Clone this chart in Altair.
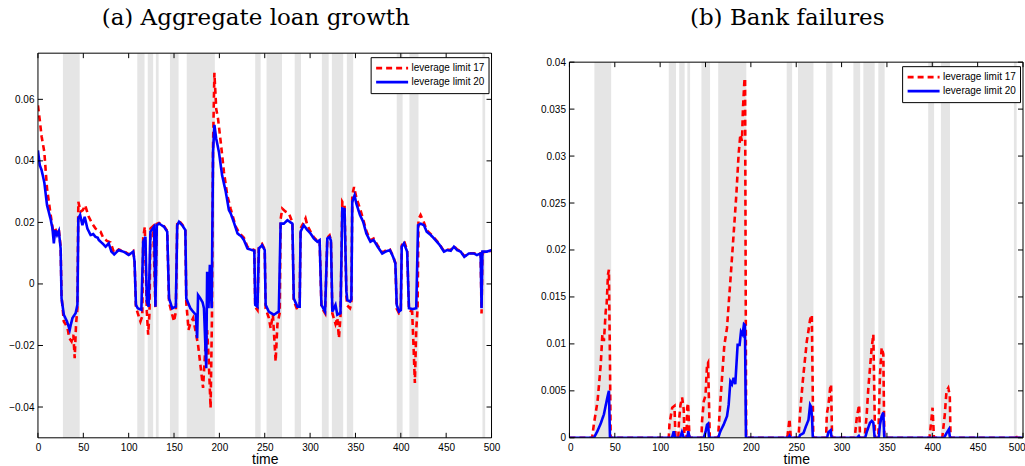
import altair as alt
import pandas as pd

# ---------------- (a) aggregate loan growth ----------------
loan_t_17 = [0, 2, 4, 7, 10, 14, 16, 17.5, 19, 21, 23, 25, 26, 28.5, 30.5, 33, 34.5, 37, 39, 40.5, 42, 43.5,
             44.5, 47, 49.5, 52, 56, 60, 63.5, 69, 72, 76, 80, 84, 89, 95, 100, 105, 106.5, 108, 110, 113,
             115, 116, 117.8, 120, 121.5, 123, 124, 127, 129.5, 131, 133.5, 139, 142.5, 144.5, 148, 150,
             152, 153.5, 155.5, 159, 162.5, 163.5, 166, 167.5, 171, 173.5, 176.5, 179.5, 182, 184.5, 186.5,
             188, 190.3, 191.8, 193, 194.5, 196.5, 198.5, 201.5, 205, 208.7, 212.4, 218, 222, 227, 231, 236,
             238.5, 239.5, 242, 243.5, 247, 250, 251, 254.5, 256.5, 259, 262, 264, 266.5, 267.5, 269.3, 273,
             276.7, 280.5, 282, 286, 288.5, 289.5, 293, 295, 297, 300.5, 304, 308, 310.5, 312.5, 316.5, 319,
             321.5, 323, 324.5, 328, 330, 331.8, 333.5, 335.5, 338, 340, 341, 344, 345.5, 346.5, 348.5, 351,
             355, 358.5, 362, 366.5, 370, 374.5, 379.5, 383, 388, 391.5, 394, 395.5, 398, 400, 401, 403.5,
             407, 409, 412.5, 414, 415.5, 417, 418.5, 419.5, 421.8, 425.5, 428.5, 433, 438, 443, 447.5, 451,
             455, 458.5, 462, 466, 470, 475, 480.5, 484, 488, 489, 490, 495, 500]
loan_v_17 = [0.058, 0.0532, 0.048, 0.0429, 0.031, 0.0224, 0.0185, 0.0155, 0.018, 0.0165, 0.0178, 0.012,
             -0.004, -0.0122, -0.0131, -0.015, -0.0176, -0.0187, -0.0165, -0.0241, -0.013, -0.0079,
             0.0267, 0.0235, 0.024, 0.0256, 0.0218, 0.0195, 0.018, 0.017, 0.015, 0.014, 0.0135, 0.01,
             0.0112, 0.0106, 0.0096, 0.0107, 0.0075, -0.0075, -0.0095, -0.0122, -0.0105, 0.015, 0.0186,
             -0.009, -0.0165, -0.009, 0.018, 0.0188, -0.008, 0.0195, 0.0198, 0.0188, 0.0172, -0.006, -0.01,
             -0.0122, -0.009, 0.0195, 0.0205, 0.0193, 0.0176, -0.006, -0.0149, -0.0133, -0.0111, -0.015,
             -0.0198, -0.0274, -0.0338, -0.0209, -0.015, -0.023, -0.0403, -0.011, 0.045, 0.0686, 0.0569,
             0.0537, 0.0461, 0.0364, 0.0288, 0.0245, 0.0186, 0.0165, 0.015, 0.012, 0.0113, 0.011, -0.0075,
             -0.0085, 0.012, 0.013, 0.0112, -0.008, -0.011, -0.0144, -0.01, -0.0252, -0.013, -0.0095, 0.021,
             0.0245, 0.0235, 0.0229, 0.02, -0.0055, -0.0085, -0.008, 0.018, 0.02, 0.0213, 0.019, 0.017,
             0.0152, 0.014, 0.0144, -0.0075, -0.0095, 0.015, 0.0158, 0.0142, -0.0095, -0.013, -0.011,
             -0.0176, -0.0105, 0.0267, 0.0255, -0.004, -0.007, -0.0079, -0.0065, 0.029, 0.0315, 0.028,
             0.0245, 0.021, 0.0172, 0.0142, 0.0148, 0.0125, 0.0102, 0.0108, 0.0112, 0.009, 0.0068, -0.008,
             -0.0095, -0.009, 0.0125, 0.014, 0.011, -0.0085, -0.009, -0.02, -0.0322, -0.015, -0.008, 0.021,
             0.0224, 0.02, 0.0175, 0.0162, 0.0146, 0.0128, 0.0107, 0.0112, 0.011, 0.0123, 0.0112, 0.0107,
             0.009, 0.01, 0.01, 0.0096, 0.01, -0.0096, 0.0103, 0.0104, 0.0108]

loan_t_20 = [0, 2, 4, 7, 10, 14, 16, 17.5, 19, 21, 23, 25, 26, 28.5, 32, 35, 36, 38, 41.5, 43.5, 44.5, 46.5,
             49, 51.5, 54.5, 58, 61, 63.5, 66, 67, 71, 74.5, 78, 81, 84, 89, 95, 100, 105, 106.5, 108, 110,
             114, 116, 118.5, 120, 122, 124, 128, 129.5, 131, 133.5, 139, 142.5, 144.5, 148, 152, 153.5,
             155.5, 159, 162.5, 163.5, 168, 171, 174, 175.5, 176.5, 179, 181.5, 183, 185.5, 186.5, 188,
             189.5, 191.5, 193, 194.5, 196.5, 199.5, 203, 207, 210.5, 212.5, 216, 220, 224, 227, 231, 236,
             238.5, 239.5, 242, 243.5, 247, 250, 251, 254.5, 260, 265.5, 267.5, 271, 275, 280.5, 282, 286,
             288.5, 289.5, 293, 297, 300.5, 304, 308, 310.5, 312.5, 316.5, 319, 321.5, 323, 324.5, 328, 330,
             333.5, 335.5, 338, 340, 341, 344, 345.5, 346.5, 349, 351, 355, 358.5, 362, 366.5, 370, 374.5,
             379.5, 383, 388, 391.5, 394, 395.5, 398, 400, 401, 403.5, 407, 409, 413, 417, 419, 422, 425.5,
             428.5, 433, 438, 443, 447.5, 451, 455, 458.5, 462, 466, 470, 475, 480.5, 484, 488, 489, 490,
             495, 500]
loan_v_20 = [0.0434, 0.0386, 0.037, 0.033, 0.0256, 0.021, 0.018, 0.0132, 0.0175, 0.0159, 0.0172, 0.0115,
             -0.0047, -0.01, -0.0122, -0.0149, -0.0135, -0.0111, -0.0095, -0.0068, 0.0213, 0.0224, 0.0191,
             0.0218, 0.018, 0.0159, 0.0162, 0.0153, 0.015, 0.0143, 0.0132, 0.0121, 0.0132, 0.0105, 0.0096,
             0.011, 0.0104, 0.0094, 0.0105, 0.0072, -0.0068, -0.0079, -0.0084, 0.0137, 0.0153, -0.0057,
             -0.0074, 0.017, 0.0186, -0.0074, 0.0191, 0.0196, 0.0186, 0.017, -0.0047, -0.0079, -0.0074,
             0.0191, 0.0202, 0.0191, 0.0175, -0.0047, -0.0079, -0.009, -0.01, -0.0176, -0.0036, -0.0047,
             -0.006, -0.0079, -0.0274, 0.004, -0.0079, 0.0062, -0.0079, 0.0429, 0.0517, 0.0472, 0.0429,
             0.0353, 0.03, 0.024, 0.0229, 0.02, 0.0164, 0.0155, 0.0143, 0.0115, 0.011, 0.0108, -0.0068,
             -0.0074, 0.0115, 0.0126, 0.011, -0.0068, -0.009, -0.01, -0.009, 0.0196, 0.0196, 0.0207, 0.0196,
             -0.0047, -0.0074, -0.0074, 0.017, 0.0191, 0.0175, 0.0164, 0.0148, 0.0137, 0.0142, -0.0068,
             -0.009, 0.0148, 0.0153, 0.014, -0.009, -0.0068, -0.01, -0.0095, 0.0245, 0.0243, -0.0025,
             -0.0052, -0.0057, -0.005, 0.0267, 0.0288, 0.0261, 0.0224, 0.0202, 0.0164, 0.0137, 0.0143,
             0.0121, 0.0099, 0.0105, 0.011, 0.0088, 0.0067, -0.0068, -0.009, -0.0085, 0.0121, 0.0132,
             0.0105, -0.0079, -0.0082, -0.0079, 0.0191, 0.0196, 0.0191, 0.017, 0.0159, 0.0143, 0.0126,
             0.0105, 0.011, 0.0108, 0.0121, 0.011, 0.0105, 0.0088, 0.0099, 0.0099, 0.0094, 0.0099, -0.0079,
             0.0105, 0.0105, 0.011]

# ---------------- (b) bank failures ----------------
fail_t_17 = [0, 25, 27, 31, 34.5, 36.3, 38, 40, 41, 42.5, 43.5, 44.7, 45.4, 109.5, 110.3, 113.3, 115.8,
             116.9, 120, 120.8, 122.4, 124.2, 126, 126.8, 129, 129.8, 130.8, 132.3, 145.5, 146.2, 148.1,
             150, 151.7, 152.8, 153.9, 154.7, 163.8, 166.4, 168.2, 170.8, 173.7, 175.5, 177.4, 179.2, 181,
             184, 186.5, 188.4, 190.2, 191.3, 192.8, 193.6, 194.8, 240, 240.5, 242.6, 244, 252.5, 254.3,
             257.3, 259.8, 261.7, 263.5, 265.3, 267.2, 268.8, 283, 283.7, 285.5, 287.4, 288.4, 289.5,
             314.5, 316.7, 319.3, 320.4, 325.5, 327.7, 329.5, 331.3, 333.2, 335, 336.9, 340.5, 342.3,
             344.2, 346, 347.1, 397, 400.3, 401.8, 411, 413.8, 415.7, 417.6, 419.3, 420.1, 491, 491.9,
             493, 500]
fail_v_17 = [0, 0, 0.0015, 0.0039, 0.0078, 0.011, 0.0103, 0.0135, 0.0142, 0.0174, 0.0179, 0.0078, 0, 0,
             0.0015, 0.0032, 0.0034, 0, 0, 0.0018, 0.0035, 0.0043, 0.003, 0, 0, 0.0032, 0.0037, 0, 0,
             0.0018, 0.0039, 0.0045, 0.0078, 0.008, 0.0035, 0, 0, 0.0039, 0.0064, 0.0099, 0.0117, 0.0142,
             0.0167, 0.0192, 0.0217, 0.0259, 0.0302, 0.0323, 0.0316, 0.0351, 0.0379, 0.0383, 0, 0, 0.0003,
             0.002, 0, 0, 0.0027, 0.0061, 0.0085, 0.0103, 0.0114, 0.0126, 0.0131, 0, 0, 0.0025, 0.0035,
             0.0053, 0.0057, 0, 0, 0.0021, 0.0035, 0, 0, 0.0025, 0.0053, 0.0074, 0.0096, 0.011, 0, 0,
             0.0067, 0.0096, 0.0089, 0, 0, 0.0032, 0, 0, 0.0025, 0.005, 0.0053, 0.0045, 0, 0, 0.0003, 0, 0]

fail_t_20 = [0, 27, 30.8, 34.4, 38, 41.8, 43.5, 44.7, 113, 115, 116.5, 122, 124, 126, 130, 131, 132.5, 148,
             150, 151.7, 152.8, 153.9, 164, 166.4, 170, 173.7, 175.5, 177.4, 179.2, 181, 182.8, 185.4,
             187.6, 189.1, 190.9, 192.4, 193.5, 194.6, 241.5, 242.6, 243.5, 253, 254.3, 258, 260.6, 263.5,
             265.3, 266.4, 267.5, 268.3, 284, 285.5, 288, 289, 317, 319, 320, 326, 327.7, 329.5, 331.3,
             333.2, 335, 336.5, 341, 342.3, 344.2, 346, 347.1, 413, 415.7, 418.3, 419.5, 500]
fail_v_20 = [0, 0, 0.0007, 0.0015, 0.0025, 0.0043, 0.005, 0, 0, 0.0007, 0, 0, 0.0006, 0, 0, 0.0007, 0, 0,
             0.0006, 0.0014, 0.0015, 0, 0, 0.0007, 0.0014, 0.0023, 0.0035, 0.006, 0.0057, 0.0064, 0.0057,
             0.0099, 0.0099, 0.0113, 0.011, 0.0121, 0.012, 0, 0, 0.0002, 0, 0, 0.0003, 0.0005, 0.0012,
             0.0019, 0.0035, 0.0033, 0.002, 0, 0, 0.0006, 0.0008, 0, 0, 0.0002, 0, 0, 0.0006, 0.0011,
             0.0016, 0.0018, 0.0016, 0, 0, 0.0014, 0.0023, 0.0027, 0, 0, 0.0005, 0.0009, 0, 0]

# shaded periods (start, end) on the time axis
band_start = [27.5, 109.5, 121, 130, 145.5, 164, 239.5, 252, 283, 313, 324, 340.5, 395.5, 409.5, 490]
band_end = [46, 117.5, 127, 133, 155, 195, 245.5, 269, 290, 320.5, 336.5, 347.5, 402, 419.5, 493]

series_names = ["leverage limit 17", "leverage limit 20"]
series_colors = ["#ff0000", "#0000ff"]
series_dash = [[6, 4], [1, 0]]

time_ticks = list(range(0, 501, 50))
loan_ticks = [-0.04, -0.02, 0, 0.02, 0.04, 0.06]
fail_ticks = [0, 0.005, 0.01, 0.015, 0.02, 0.025, 0.03, 0.035, 0.04]

SANS = "Liberation Sans"
SERIF = "DejaVu Serif"
TICK = 5
W, H = 454, 385


def series_frame(t17, v17, t20, v20):
    a = pd.DataFrame({"t": t17, "v": v17, "series": series_names[0]})
    b = pd.DataFrame({"t": t20, "v": v20, "series": series_names[1]})
    return pd.concat([a, b], ignore_index=True)


def panel(df, yticks, ydomain, top, title, flush_x):
    """One boxed panel; `top` is the pixel row of the frame's upper edge."""
    xscale = alt.Scale(domain=[0, 500], nice=False, zero=False)
    yscale = alt.Scale(domain=ydomain, range=[H, top], nice=False, zero=False)
    xaxis = alt.Axis(values=time_ticks, title="time", labelFlush=flush_x, labelFlushOffset=2,
                     labelFont=SANS, labelFontSize=10, labelColor="black", labelPadding=5,
                     titleFont=SANS, titleFontSize=14, titleFontWeight="normal", titleColor="black",
                     titleBaseline="alphabetic", titleY=26, ticks=False, domain=False, grid=False)
    yaxis = alt.Axis(values=yticks, title=None, format="~g", labelFont=SANS, labelFontSize=10,
                     labelColor="black", labelPadding=4, ticks=False, domain=False, grid=False)

    bands = pd.DataFrame({"start": band_start, "end": band_end})
    shade = alt.Chart(bands).mark_rect(color="#e5e5e5").encode(
        x=alt.X("start:Q", scale=xscale, axis=xaxis),
        x2="end:Q",
        y=alt.value(top),
        y2=alt.value(H),
    )

    lines = alt.Chart(df).mark_line(strokeWidth=2.6, clip=True).encode(
        x=alt.X("t:Q", scale=xscale, axis=xaxis),
        y=alt.Y("v:Q", scale=yscale, axis=yaxis),
        color=alt.Color("series:N", scale=alt.Scale(domain=series_names, range=series_colors),
                        legend=alt.Legend(title=None, orient="none", legendX=W - 121,
                                          legendY=top + 4,
                                          symbolType="stroke", symbolSize=1024, clipHeight=14,
                                          symbolStrokeWidth=2.6, labelFont=SANS, labelFontSize=10,
                                          labelColor="black", labelOffset=2, padding=4,
                                          rowPadding=0, strokeColor="black", fillColor="white")),
        strokeDash=alt.StrokeDash("series:N",
                                  scale=alt.Scale(domain=series_names, range=series_dash),
                                  legend=None),
        order=alt.Order("t:Q"),
    )

    xt = pd.DataFrame({"t": time_ticks})
    yt = pd.DataFrame({"v": yticks})
    rule = dict(color="black", strokeWidth=1)
    bottom_ticks = alt.Chart(xt).mark_rule(**rule).encode(
        x=alt.X("t:Q", scale=xscale, axis=xaxis), y=alt.value(H), y2=alt.value(H - TICK))
    top_ticks = alt.Chart(xt).mark_rule(**rule).encode(
        x=alt.X("t:Q", scale=xscale, axis=xaxis), y=alt.value(top), y2=alt.value(top + TICK))
    left_ticks = alt.Chart(yt).mark_rule(**rule).encode(
        y=alt.Y("v:Q", scale=yscale, axis=yaxis), x=alt.value(0), x2=alt.value(TICK))
    right_ticks = alt.Chart(yt).mark_rule(**rule).encode(
        y=alt.Y("v:Q", scale=yscale, axis=yaxis), x=alt.value(W), x2=alt.value(W - TICK))

    frame = alt.Chart(pd.DataFrame({"t": [0]})).mark_rect(
        fillOpacity=0, stroke="black", strokeWidth=1
    ).encode(x=alt.value(0), x2=alt.value(W), y=alt.value(top), y2=alt.value(H))

    return alt.layer(shade, lines, bottom_ticks, top_ticks, left_ticks, right_ticks, frame).properties(
        width=W, height=H,
        title=alt.TitleParams(title, font=SERIF, fontSize=23, fontWeight="normal", color="black",
                              anchor="middle", offset=23, dx=-9),
    )


loan_chart = panel(series_frame(loan_t_17, loan_v_17, loan_t_20, loan_v_20),
                   loan_ticks, [-0.05, 0.075], 0, "(a) Aggregate loan growth", False)
fail_chart = panel(series_frame(fail_t_17, fail_v_17, fail_t_20, fail_v_20),
                   fail_ticks, [0, 0.04], 9, "(b) Bank failures", True)

chart = alt.hconcat(loan_chart, fail_chart, spacing=78, bounds="flush").resolve_scale(
    color="independent", strokeDash="independent"
).resolve_legend(color="independent", strokeDash="independent").properties(
    padding={"left": 8, "top": 6, "right": 0, "bottom": 0},
    background="white",
).configure_view(stroke=None)

chart.save("out.html", embed_options={"renderer": "svg", "actions": False})
